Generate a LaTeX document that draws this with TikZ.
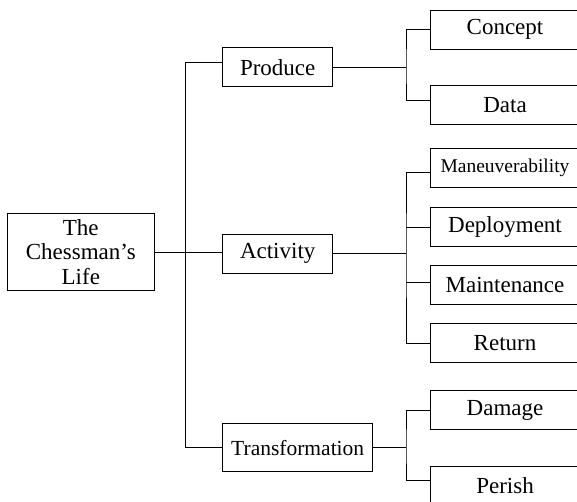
\documentclass[tikz,border=0pt]{standalone}
\usepackage{fontspec}
\setmainfont{Liberation Serif}
\begin{document}
\begin{tikzpicture}[x=1pt,y=-1pt,
  box/.style={draw, line width=1pt, inner sep=0pt, align=center,
    font=\fontsize{23}{24.5}\selectfont},
  midbox/.style={box, minimum width=110pt, minimum height=39pt},
  leafbox/.style={box, minimum width=150pt, minimum height=39pt},
  link/.style={line width=1pt}]
\useasboundingbox (0,0) rectangle (577,501);
\clip (0,0) rectangle (577,501);

% root
\node[box, minimum width=147pt, minimum height=77.4pt] (root) at (80.8,252) {The\\Chessman’s\\Life};

% middle level
\node[midbox] (produce) at (277.7,67.2) {Produce};
\node[midbox] (activity) at (277.7,253.5) {Activity};
\node[box, minimum width=150pt, minimum height=47.7pt, font=\fontsize{21.5}{23}\selectfont] (transf) at (297.7,447.8) {Transformation};

% leaves
\node[leafbox] (concept) at (505,29.5) {Concept};
\node[leafbox] (data) at (505,105.2) {Data};
\node[leafbox, font=\fontsize{19.5}{21}\selectfont] (maneuv) at (505,167.8) {Maneuverability};
\node[leafbox] (deploy) at (505,227.3) {Deployment};
\node[leafbox] (maint) at (505,284.5) {Maintenance};
\node[leafbox] (return) at (505,343) {Return};
\node[leafbox] (damage) at (505,410) {Damage};
\node[leafbox] (perish) at (505,485.5) {Perish};

% junctions
\coordinate (rtop) at (185,62.7);
\coordinate (rbot) at (185,447.8);
\coordinate (pj) at (406,67.7);
\coordinate (aj) at (406,253);
\coordinate (tj) at (406,447.8);

% root connectors
\draw[link] (root.east) -- (activity.west |- root.east);
\draw[link] ([yshift=4.5pt]produce.west) -- (rtop) -- (rbot) -- (transf.west);

% produce branch
\draw[link] (produce.east |- pj) -- (pj);
\draw[link] (concept.west) -| (pj) |- ([yshift=4.5pt]data.west);

% activity branch
\draw[link] (activity.east |- aj) -- (aj);
\draw[link] ([yshift=-4.5pt]maneuv.west) -| (aj) |- (return.west);
\draw[link] (deploy.west) -- (deploy.west -| aj);
\draw[link] ([yshift=2.2pt]maint.west) -- ([yshift=2.2pt]maint.west -| aj);

% transformation branch
\draw[link] (transf.east) -- (tj);
\draw[link] (damage.west) -| (tj) |- ([yshift=4.8pt]perish.west);
\end{tikzpicture}
\end{document}
